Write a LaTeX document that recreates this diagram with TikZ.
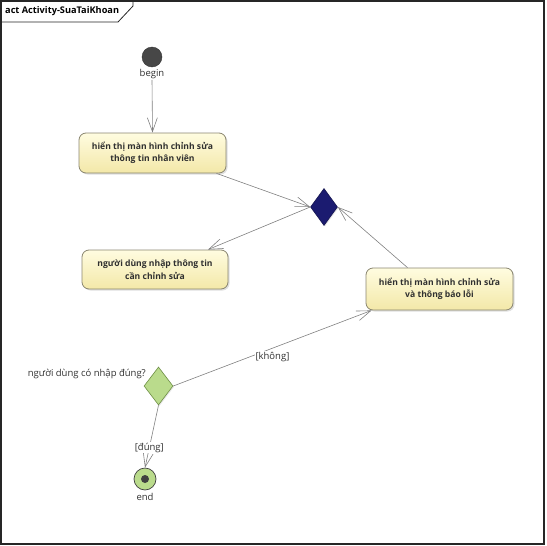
\documentclass[tikz,border=0pt]{standalone}
\usepackage{fontspec}
\setmainfont{Open Sans}
\usetikzlibrary{arrows.meta,shapes.geometric,shadows,calc}
\definecolor{edgegray}{HTML}{808080}
\definecolor{acttop}{HTML}{FFFCE0}
\definecolor{actbot}{HTML}{F3E8A8}
\definecolor{actborder}{HTML}{8A8670}
\definecolor{navy}{HTML}{1B1B70}
\definecolor{decfill}{HTML}{BADB8C}
\definecolor{decborder}{HTML}{6E8F45}
\definecolor{txt}{HTML}{303030}
\tikzset{
  action/.style={rectangle, rounded corners=7pt, draw=actborder, line width=0.8pt,
    top color=acttop, bottom color=actbot, align=center, font=\bfseries\fontsize{8.6}{12.5}\selectfont,
    text=txt, inner sep=0pt,
    drop shadow={shadow xshift=1.5pt, shadow yshift=-1.5pt, opacity=0.25}},
  flow/.style={draw=edgegray, line width=0.6pt, -{Straight Barb[length=14pt,width=10pt,line width=0.6pt]}},
  lbl/.style={font=\fontsize{9.5}{11}\selectfont, text=txt, inner sep=1pt},
  glabel/.style={font=\fontsize{9.5}{11}\selectfont, text=txt, fill=white, inner sep=1pt},
}
\begin{document}
\begin{tikzpicture}[x=1pt,y=-1pt]
\useasboundingbox (0,0) rectangle (546,546);
% frame
\node[draw=none, anchor=west, font=\bfseries\fontsize{9.2}{11}\selectfont, text=black, inner sep=0pt] (title) at (5,11) {act Activity-SuaTaiKhoan};
\draw[line width=1.1pt, draw=black!85] (1,1) rectangle (544,544);
\draw[line width=0.8pt, draw=black!85] (1,22) -- (118,22) -- (133,6) -- (133,1);
% begin
\node[circle, fill=black!72, draw=black!80, minimum size=20pt, inner sep=0pt] (begin) at (152,57) {};
\node[lbl, anchor=north] (beginlbl) at (152,68) {begin};
% actions
\node[action, minimum width=147pt, minimum height=40pt] (a1) at (152.5,153) {hiển thị màn hình chỉnh sửa\\thông tin nhân viên};
\node[action, minimum width=146pt, minimum height=39pt] (a2) at (155,269.5) {người dùng nhập thông tin\\cần chỉnh sửa};
\node[action, minimum width=147pt, minimum height=42pt] (a3) at (439.5,289) {hiển thị màn hình chỉnh sửa\\và thông báo lỗi};
% merge
\node[diamond, fill=navy, draw=navy!70!black, line width=0.6pt, minimum width=27pt, minimum height=37pt, inner sep=0pt, aspect=0.73,
  drop shadow={shadow xshift=1pt, shadow yshift=-1pt, opacity=0.2}] (merge) at (324,207) {};
% decision
\node[diamond, fill=decfill, draw=decborder, line width=0.6pt, minimum width=29pt, minimum height=38pt, inner sep=0pt, aspect=0.76,
  drop shadow={shadow xshift=1pt, shadow yshift=-1pt, opacity=0.2}] (dec) at (158.5,386) {};
\node[lbl, anchor=east] (declbl) at (147,374) {người dùng có nhập đúng?};
% end
\node[circle, fill=decfill, draw=black!75, line width=0.7pt, minimum size=22pt, inner sep=0pt] (end) at (145,479) {};
\node[circle, fill=black!75, minimum size=8pt, inner sep=0pt] (endin) at (end.center) {};
\node[lbl, anchor=north] (endlbl) at (145,492) {end};
% edges
\draw[flow] (beginlbl.south) -- (a1.north);
\draw[flow] ($(a1.south)+(64,0)$) -- (merge.west);
\draw[flow] (merge.west) -- ($(a2.north)+(53,0)$);
\draw[flow] ($(a3.north)+(-32,0)$) -- (merge.east);
\draw[flow] (dec.east) -- node[glabel, pos=0.5, yshift=-9pt] (nolbl) {[không]} ($(a3.south west)+(6,0)$);
\draw[flow] (dec.south) -- node[glabel, pos=0.68] (yeslbl) {[đúng]} (end.north);
\end{tikzpicture}
\end{document}
